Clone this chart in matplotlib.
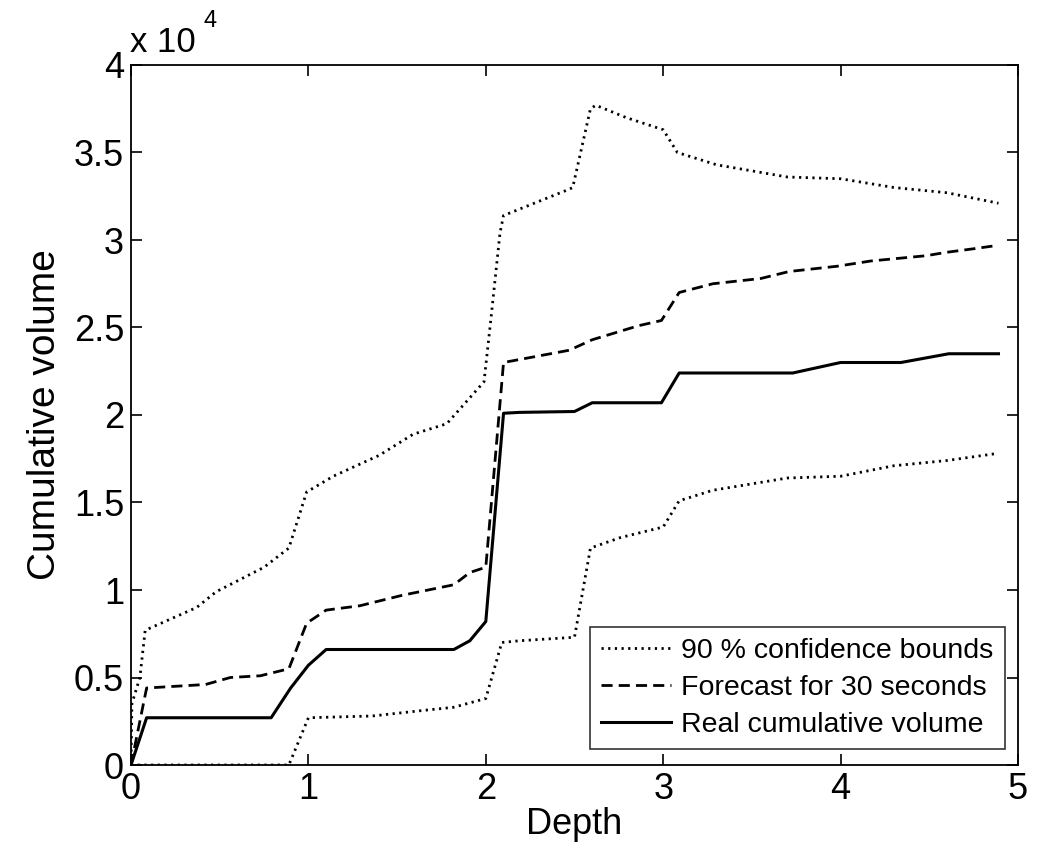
import matplotlib
matplotlib.use("Agg")
from matplotlib import pyplot as plt
import numpy as np

plt.rcParams['font.family'] = ['Liberation Sans', 'DejaVu Sans']

# real cumulative volume
real_x = [0, 0.088, 0.79, 0.9, 1.0, 1.1, 1.82, 1.91, 2.0, 2.1, 2.19, 2.5, 2.6, 2.99, 3.09, 3.73, 4.0, 4.34, 4.61, 4.89]
real_y = [0, 2700, 2700, 4400, 5700, 6600, 6600, 7100, 8200, 20100, 20150, 20200, 20700, 20700, 22400, 22400, 23000, 23000, 23500, 23500]

# forecast for 30 seconds
fc_x = [0, 0.088, 0.42, 0.56, 0.73, 0.89, 0.99, 1.1, 1.29, 1.53, 1.82, 1.91, 2.0, 2.1, 2.47, 2.6, 2.86, 2.99, 3.09, 3.28, 3.55, 3.71, 3.98, 4.17, 4.48, 4.6, 4.75, 4.89]
fc_y = [0, 4400, 4600, 5000, 5100, 5500, 8100, 8850, 9100, 9700, 10300, 11000, 11300, 23000, 23700, 24300, 25100, 25400, 27000, 27500, 27800, 28200, 28500, 28800, 29100, 29300, 29500, 29700]

# 90 % confidence bounds
up_x = [0, 0.005, 0.05, 0.08, 0.37, 0.48, 0.75, 0.89, 0.99, 1.14, 1.40, 1.59, 1.78, 1.99, 2.03, 2.08, 2.1, 2.47, 2.49, 2.59, 2.62, 2.79, 3.0, 3.08, 3.3, 3.7, 4.0, 4.3, 4.6, 4.89]
up_y = [0, 3500, 5000, 7700, 9000, 9900, 11300, 12400, 15600, 16500, 17700, 18900, 19500, 21900, 25600, 30400, 31400, 32900, 33000, 37500, 37700, 37000, 36300, 35000, 34300, 33600, 33500, 33000, 32700, 32100]
lo_x = [0, 0.89, 1.0, 1.36, 1.63, 1.82, 2.0, 2.09, 2.19, 2.5, 2.59, 2.76, 3.0, 3.09, 3.28, 3.7, 4.0, 4.3, 4.6, 4.88]
lo_y = [0, 0, 2700, 2800, 3100, 3300, 3800, 7000, 7100, 7300, 12400, 13000, 13600, 15100, 15700, 16400, 16500, 17100, 17400, 17800]

fig = plt.figure(figsize=(10.39, 8.55), dpi=100)
ax = fig.add_axes([131/1039, 1 - 765/855, 887/1039, 700/855])

dot = (0, (0.8, 1.6))
ax.plot(up_x, up_y, color='k', linestyle=dot, linewidth=2, label='90 % confidence bounds')
ax.plot(fc_x, fc_y, color='k', linestyle=(0, (4, 2.2)), linewidth=2, label='Forecast for 30 seconds')
ax.plot(real_x, real_y, color='k', linestyle='-', linewidth=2.2, label='Real cumulative volume')
ax.plot(lo_x, lo_y, color='k', linestyle=dot, linewidth=2)

ax.set_xlim(0, 5)
ax.set_ylim(0, 40000)
ax.set_xticks([0, 1, 2, 3, 4, 5])
ax.set_yticks(np.arange(0, 40001, 5000))
ax.set_yticklabels(['0', '0.5', '1', '1.5', '2', '2.5', '3', '3.5', '4'])
ax.tick_params(direction='in', length=8, width=1.2, top=True, right=True, labelsize=26, pad=5)
for s in ax.spines.values():
    s.set_linewidth(1.3)

ax.set_xlabel('Depth', fontsize=26, labelpad=0)
ax.set_ylabel('Cumulative volume', fontsize=28, labelpad=8)
fig.text(130/1039, 1 - 52/855, 'x 10', fontsize=25, ha='left', va='baseline')
fig.text(204/1039, 1 - 27/855, '4', fontsize=17, ha='left', va='baseline')

leg = ax.legend(loc='lower right', bbox_to_anchor=(0.985, 0.023), fontsize=20.5, frameon=True,
                fancybox=False, edgecolor='k', handlelength=2.45, handletextpad=0.35,
                borderpad=0.4, labelspacing=0.37, borderaxespad=0)
leg.get_frame().set_linewidth(1.2)

fig.savefig('out.png', dpi=100)
